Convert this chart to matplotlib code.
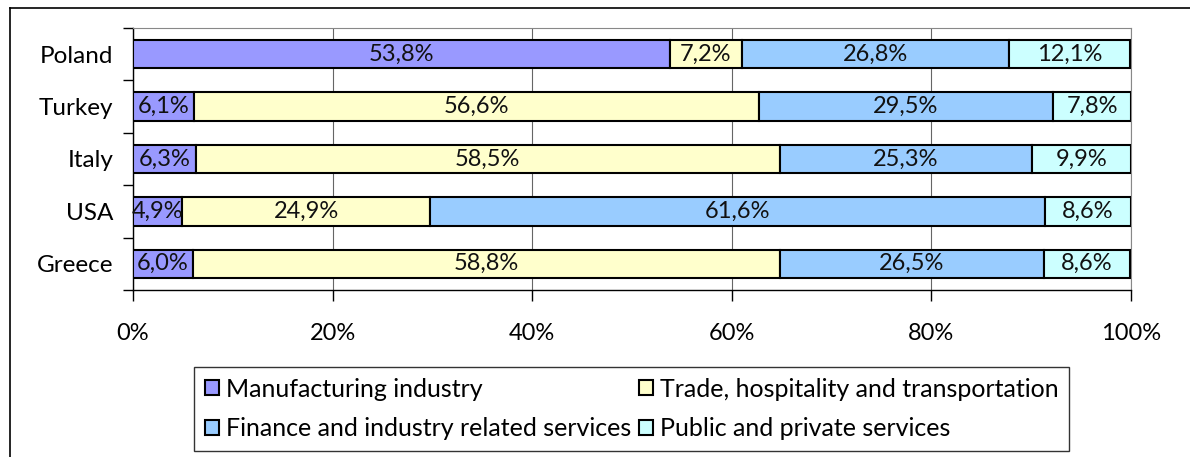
import matplotlib
matplotlib.use("Agg")
import matplotlib.pyplot as plt
from matplotlib.lines import Line2D
import numpy as np

plt.rcParams['font.family'] = ['Lato', 'DejaVu Sans']

countries = ["Poland", "Turkey", "Italy", "USA", "Greece"]
sectors = ["Manufacturing industry", "Trade, hospitality and transportation",
           "Finance and industry related services", "Public and private services"]
manufacturing = [53.8, 6.1, 6.3, 4.9, 6.0]
trade = [7.2, 56.6, 58.5, 24.9, 58.8]
finance = [26.8, 29.5, 25.3, 61.6, 26.5]
public = [12.1, 7.8, 9.9, 8.6, 8.6]
x_ticks = [0, 20, 40, 60, 80, 100]

colors = ["#9999FF", "#FFFFCC", "#99CCFF", "#CCFFFF"]
series = [manufacturing, trade, finance, public]

fig = plt.figure(figsize=(11.9, 4.57), dpi=100)
ax = fig.add_axes([133 / 1190, 1 - 290 / 457, 998 / 1190, 262 / 457])

y = np.arange(len(countries))
left = np.zeros(len(countries))
bars = []
for vals, col, name in zip(series, colors, sectors):
    vals = np.array(vals)
    b = ax.barh(y, vals, left=left, height=0.54, color=col, edgecolor="black",
                linewidth=1.5, label=name, zorder=3)
    bars.append(b)
    for yi, l, v in zip(y, left, vals):
        ax.text(l + v / 2, yi, f"{v:.1f}%".replace(".", ","), ha="center",
                va="center", fontsize=17, color="#111111", zorder=4)
    left = left + vals

ax.set_xlim(0, 100)
ax.set_ylim(len(countries) - 0.5, -0.5)
ax.set_xticks(x_ticks)
ax.set_xticklabels([f"{t}%" for t in x_ticks], fontsize=17)
ax.set_yticks(y)
ax.set_yticklabels(countries, fontsize=17.5)
ax.set_yticks(np.arange(-0.5, len(countries)), minor=True)
ax.tick_params(axis="y", which="major", length=0, pad=14)
ax.tick_params(axis="y", which="minor", length=7, width=1, direction="out")
ax.tick_params(axis="x", length=8, width=1, direction="out", pad=16)
ax.grid(axis="x", color="#666666", linewidth=0.8, zorder=0)
for s in ["top", "right"]:
    ax.spines[s].set_color("#888888")
for s in ["left", "bottom"]:
    ax.spines[s].set_color("black")
    ax.spines[s].set_linewidth(1)

# legend filled row by row
order = [0, 2, 1, 3]
leg = fig.legend([bars[i] for i in order], [sectors[i] for i in order],
                 loc="center", bbox_to_anchor=(0.531, 0.105), ncol=2,
                 fontsize=18, frameon=True, fancybox=False, edgecolor="black",
                 handlelength=0.55, handleheight=0.55, handletextpad=0.3,
                 columnspacing=0.3, borderpad=0.42, labelspacing=0.67)
leg.get_frame().set_linewidth(1)

# outer frame of the chart area
fig.add_artist(Line2D([10 / 1190, 1], [1 - 8 / 457, 1 - 8 / 457], color="black", lw=1.2))
fig.add_artist(Line2D([10 / 1190, 10 / 1190], [0, 1 - 8 / 457], color="black", lw=1.2))

fig.savefig("out.png", dpi=100)
